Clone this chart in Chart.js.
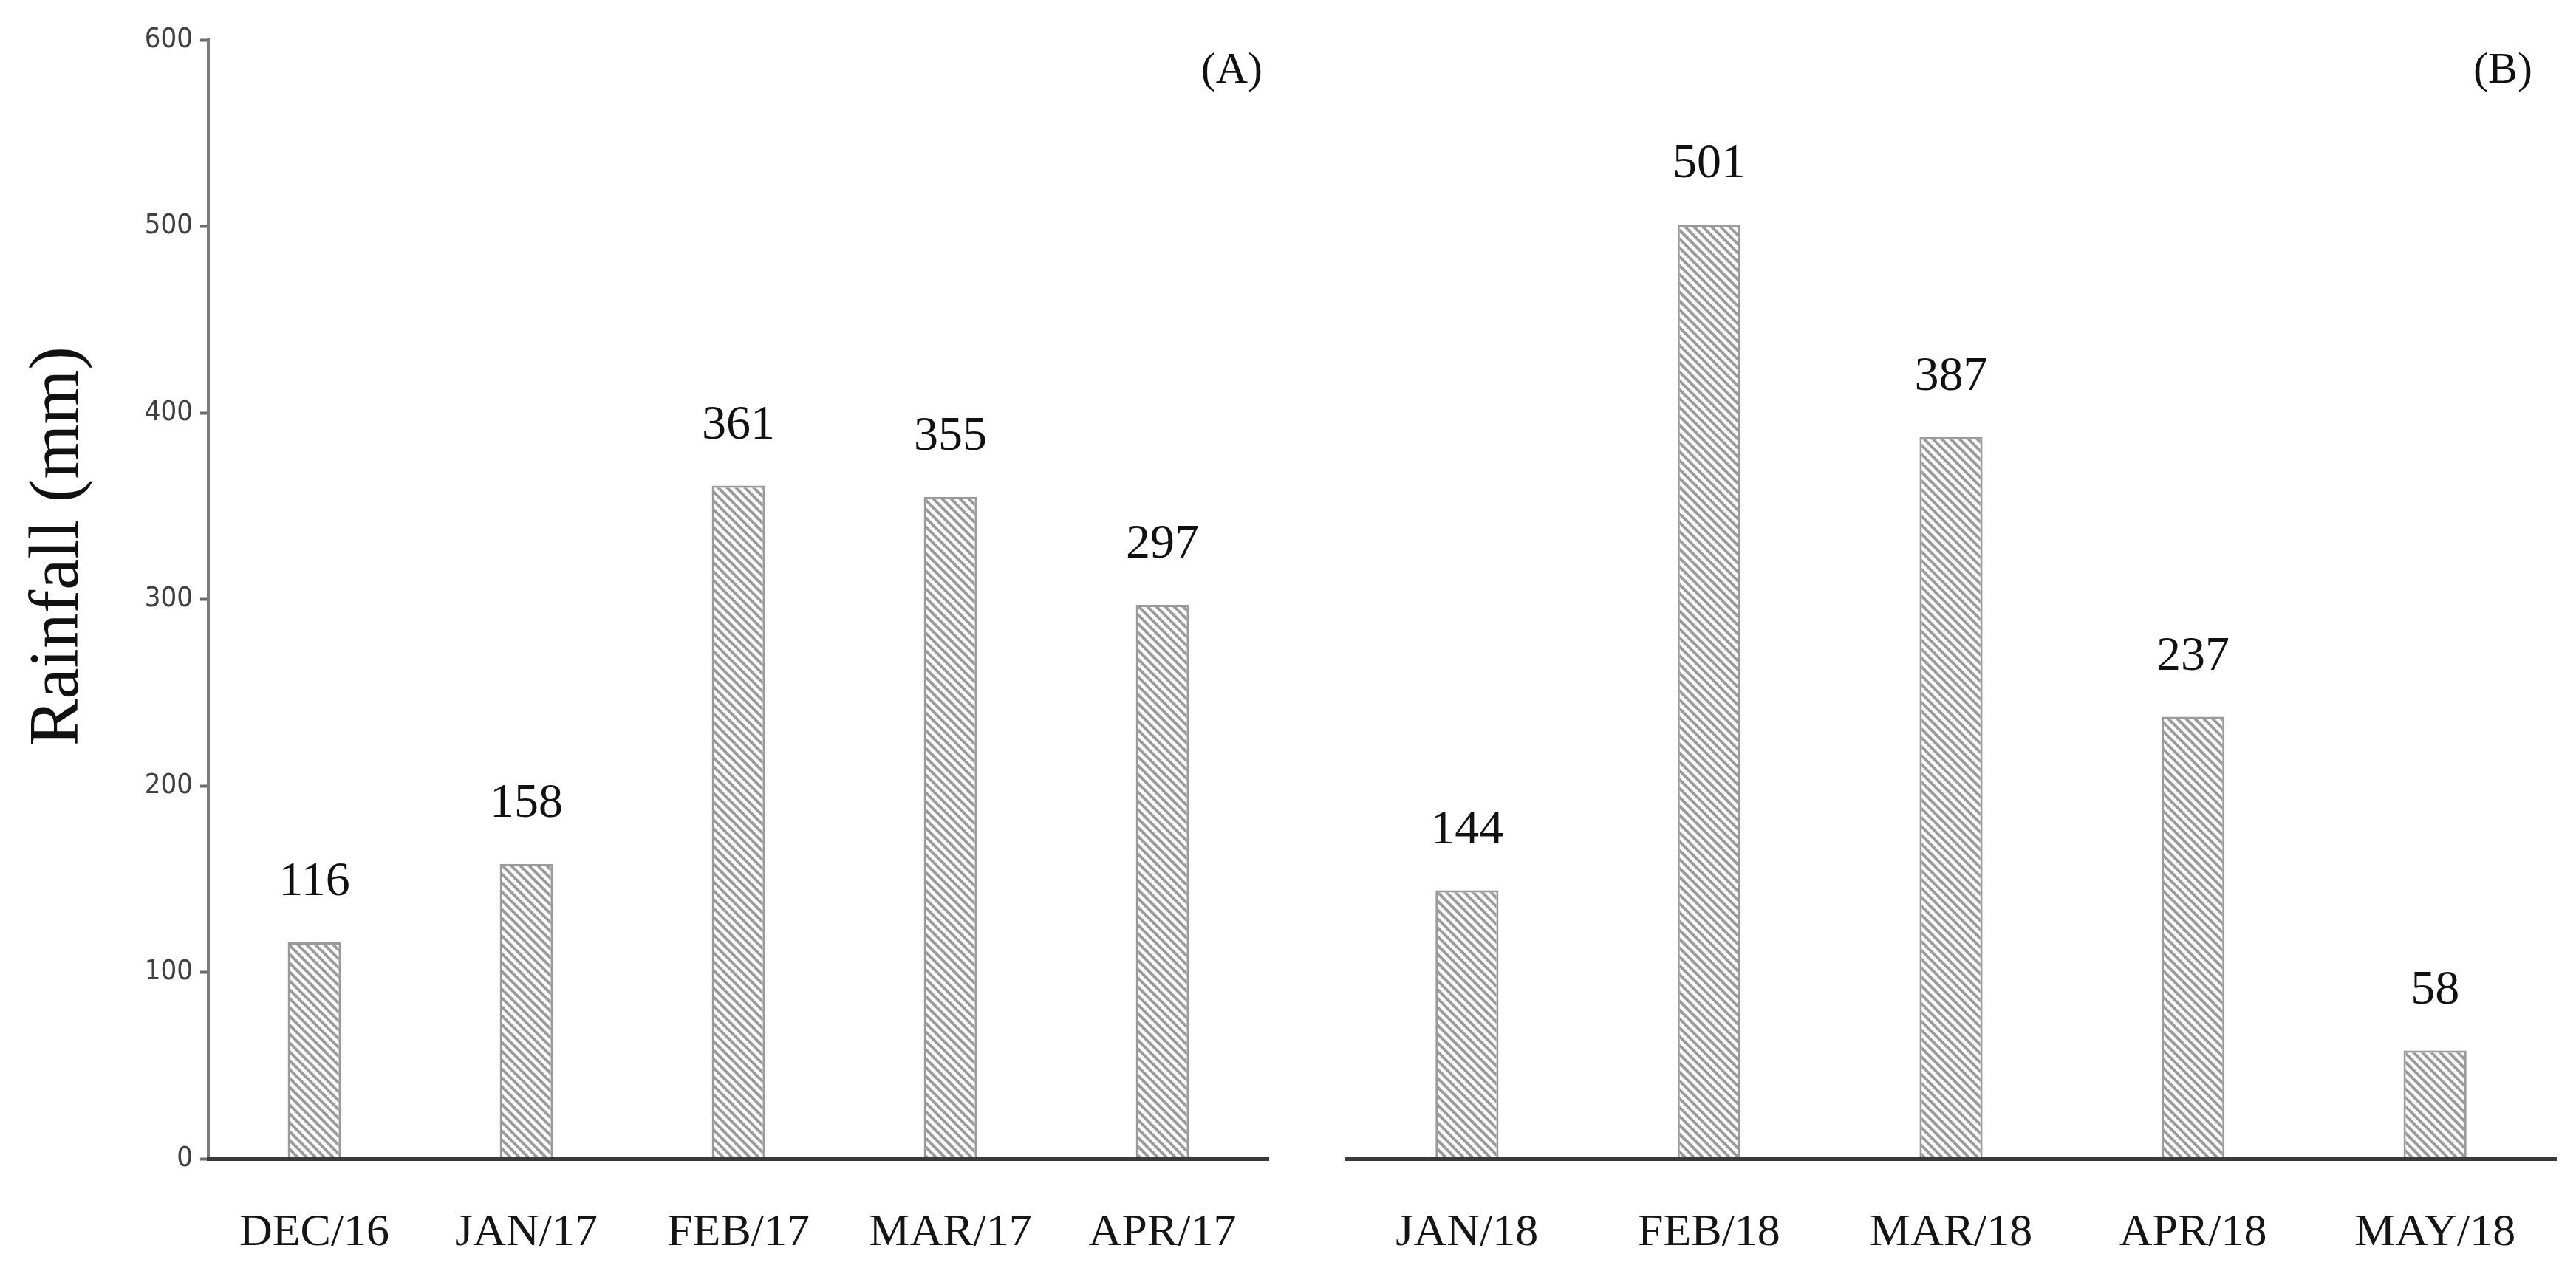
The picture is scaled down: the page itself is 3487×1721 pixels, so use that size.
<!DOCTYPE html>
<html><head><meta charset="utf-8">
<script src="https://cdn.jsdelivr.net/npm/chart.js@4.4.1/dist/chart.umd.min.js"></script>
<style>
html,body{margin:0;padding:0;background:#fff;}
#wrap{position:relative;width:3487px;height:1721px;overflow:hidden;background:#fff;}
canvas{position:absolute;top:0;}
#cA{left:0;width:1770px;height:1721px;}
#cB{left:1770px;width:1717px;height:1721px;}
</style></head><body>
<div id="wrap"><canvas id="cA" width="1770" height="1721"></canvas><canvas id="cB" width="1717" height="1721"></canvas></div>
<script>
// ---- data ----
const categoriesA = ['DEC/16', 'JAN/17', 'FEB/17', 'MAR/17', 'APR/17'];
const rainfallA = [116, 158, 361, 355, 297];
const categoriesB = ['JAN/18', 'FEB/18', 'MAR/18', 'APR/18', 'MAY/18'];
const rainfallB = [144, 501, 387, 237, 58];
const yTicks = [0, 100, 200, 300, 400, 500, 600];
const yAxisTitle = 'Rainfall (mm)';
const panelLabels = ['(A)', '(B)'];

// ---- styles ----
Chart.defaults.animation = false;
const SERIF = '"Liberation Serif", "Times New Roman", serif';
const NARROW = '"Liberation Sans Narrow", "DejaVu Sans Condensed", "Liberation Sans", sans-serif';

function makeHatch() {
  const s = 12;
  const c = document.createElement('canvas');
  c.width = s; c.height = s;
  const g = c.getContext('2d');
  g.fillStyle = '#fbfbfb';
  g.fillRect(0, 0, s, s);
  g.strokeStyle = '#9a9a9a';
  g.lineWidth = 3.8;
  for (let k = -1; k <= 1; k++) {
    g.beginPath();
    g.moveTo(k * s - 2, -2);
    g.lineTo(k * s + s + 2, s + 2);
    g.stroke();
  }
  return document.createElement('canvas').getContext('2d').createPattern(c, 'repeat');
}
const hatch = makeHatch();

const valueLabels = {
  id: 'valueLabels',
  afterDatasetsDraw(chart) {
    const ctx = chart.ctx;
    const meta = chart.getDatasetMeta(0);
    const data = chart.data.datasets[0].data;
    ctx.save();
    ctx.font = '66px ' + SERIF;
    ctx.fillStyle = '#111';
    ctx.textAlign = 'center';
    ctx.textBaseline = 'middle';
    meta.data.forEach((el, i) => {
      ctx.fillText(String(data[i]), el.x, el.y - 81);
    });
    ctx.restore();
  }
};

const panelText = {
  id: 'panelText',
  afterDraw(chart, args, opts) {
    const ctx = chart.ctx;
    const ca = chart.chartArea;
    ctx.save();
    ctx.font = '60px ' + SERIF;
    ctx.fillStyle = '#111';
    ctx.textAlign = 'right';
    ctx.textBaseline = 'middle';
    ctx.fillText(opts.text, ca.right - opts.dx, ca.top + 42);
    if (opts.yTitle) {
      ctx.translate(opts.yTitleX, (ca.top + ca.bottom) / 2 - 72);
      ctx.rotate(-Math.PI / 2);
      ctx.textAlign = 'center';
      ctx.font = '95px ' + SERIF;
      ctx.fillText(opts.yTitle, 0, 0);
    }
    ctx.restore();
  }
};

function makeChart(id, cats, vals, panel, opts) {
  return new Chart(document.getElementById(id), {
    type: 'bar',
    data: {
      labels: cats,
      datasets: [{
        data: vals,
        backgroundColor: hatch,
        borderColor: '#9a9a9a',
        borderWidth: 3,
        barPercentage: opts.barPct,
        categoryPercentage: 1
      }]
    },
    options: {
      responsive: false,
      devicePixelRatio: 1,
      animation: false,
      layout: { padding: opts.padding },
      plugins: {
        legend: { display: false },
        tooltip: { enabled: false },
        title: { display: false },
        panelText: { text: panel, dx: opts.dx, yTitle: opts.yTitle, yTitleX: 80 }
      },
      scales: {
        x: {
          offset: true,
          grid: { display: false, drawTicks: false },
          border: { display: true, color: '#3a3a3a', width: 5, z: 1 },
          ticks: { color: '#151515', font: { family: SERIF, size: 62 }, padding: 64, maxRotation: 0, autoSkip: false },
          afterFit(scale) { scale.height = 152; }
        },
        y: {
          display: opts.showY,
          min: yTicks[0],
          max: yTicks[yTicks.length - 1],
          ticks: { stepSize: yTicks[1] - yTicks[0], color: '#404040', font: { family: NARROW, size: 38 }, padding: 10 },
          grid: { display: true, drawOnChartArea: false, drawTicks: true, tickLength: 11, color: '#6a6a6a', tickWidth: 4 },
          border: { display: true, color: '#7a7a7a', width: 4 },
          afterFit(scale) { if (opts.showY) scale.width = 282; }
        }
      }
    },
    plugins: [valueLabels, panelText]
  });
}

makeChart('cA', categoriesA, rainfallA, panelLabels[0], {
  barPct: 0.25, showY: true, dx: 8, yTitle: yAxisTitle,
  padding: { top: 54, right: 53, bottom: 0, left: 0 }
});
makeChart('cB', categoriesB, rainfallB, panelLabels[1], {
  barPct: 0.26, showY: false, dx: 32, yTitle: null,
  padding: { top: 54, right: 27, bottom: 0, left: 52 }
});
</script>
</body></html>
